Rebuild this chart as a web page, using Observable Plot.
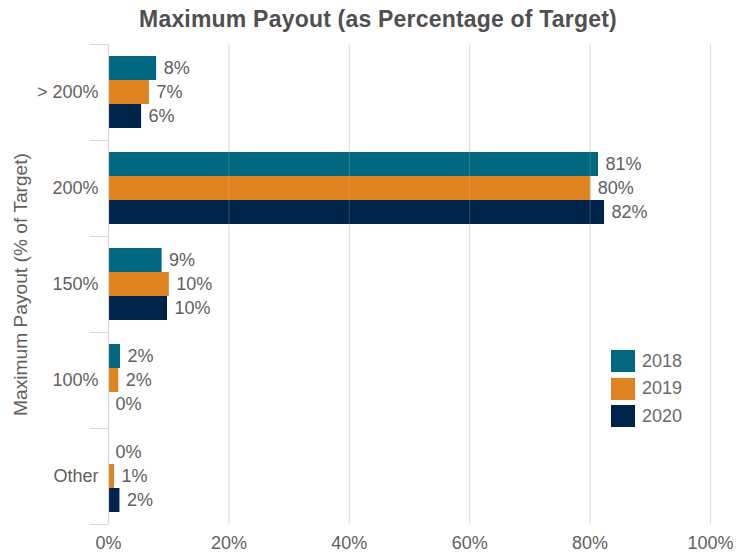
<!DOCTYPE html>
<html>
<head>
<meta charset="utf-8">
<script src="https://cdn.jsdelivr.net/npm/d3@7"></script>
<script src="https://cdn.jsdelivr.net/npm/@observablehq/plot@0.6"></script>
<style>
  body { margin: 0; background: #fff; font-family: "Liberation Sans", Arial, sans-serif; }
  #wrap { position: relative; width: 756px; height: 553px; overflow: hidden; }
  #title { position: absolute; top: 8px; left: 0; width: 756px; text-align: center;
           font-size: 23px; line-height: 1; font-weight: bold; color: #505050; letter-spacing: 0.2px; }
  #chart { position: absolute; top: 44px; left: 0; }
  #legend { position: absolute; left: 611px; top: 350px; }
  .sw { display: flex; align-items: center; height: 22px; margin-bottom: 5.5px; }
  .sw span.box { width: 24px; height: 22px; display: inline-block; }
  .sw span.lab { margin-left: 7px; font-size: 18px; color: #6b6b6b; }
</style>
</head>
<body>
<div id="wrap">
  <div id="title">Maximum Payout (as Percentage of Target)</div>
  <div id="chart"></div>
  <div id="legend"></div>
</div>
<script>
const categories = ["> 200%", "200%", "150%", "100%", "Other"];
const years = ["2018", "2019", "2020"];
const v2018 = [8.0, 81.4, 8.9, 2.0, 0];
const v2019 = [6.8, 80.1, 10.1, 1.7, 1.0];
const v2020 = [5.5, 82.4, 9.8, 0, 1.9];
const colors = ["#00677f", "#df8220", "#00234a"];
const xTicks = [0, 20, 40, 60, 80, 100];
const yLabel = "Maximum Payout (% of Target)";

const series = [v2018, v2019, v2020];
const data = [];
categories.forEach((c, i) => {
  years.forEach((yr, j) => data.push({category: c, year: yr, value: series[j][i]}));
});

const W = 756, H = 509, mt = 0, mb = 29, ml = 108, mr = 46;
const band = (H - mt - mb) / categories.length;
const textColor = "#5f5f5f";

const plot = Plot.plot({
  width: W,
  height: H,
  marginTop: mt,
  marginBottom: mb,
  marginLeft: ml,
  marginRight: mr,
  style: {fontFamily: "Liberation Sans, Arial, sans-serif", fontSize: "18px", color: textColor, background: "#fff"},
  x: {domain: [0, 100]},
  y: {domain: years, paddingInner: 0, paddingOuter: 0.45, axis: null},
  fy: {domain: categories, padding: 0},
  color: {domain: years, range: colors},
  marks: [
    Plot.ruleX(xTicks.filter(d => d > 0), {stroke: "#d6d6d6", strokeWidth: 1}),
    Plot.barX(data, {x: "value", y: "year", fy: "category", fill: "year"}),
    Plot.ruleX(xTicks.filter(d => d > 0), {stroke: "#ffffff", strokeOpacity: 0.18, strokeWidth: 1}),
    Plot.ruleX([0], {stroke: "#d6d6d6", strokeWidth: 1.2}),
    Plot.text(data, {x: "value", y: "year", fy: "category", text: d => Math.round(d.value) + "%",
      textAnchor: "start", dx: 7, fill: textColor, fontSize: 18}),
    Plot.axisX({ticks: xTicks, tickSize: 0, tickPadding: 12, tickFormat: d => d + "%", label: null, fontSize: 18, fill: textColor}),
    Plot.axisFy({anchor: "left", tickSize: 0, tickPadding: 10, label: yLabel, labelAnchor: "center", labelOffset: 95, fontSize: 18, fill: textColor}),
    Plot.axisFy({anchor: "left", tickSize: 18, text: null, label: null, dy: -band / 2, stroke: "#d6d6d6"}),
    Plot.axisFy({anchor: "left", ticks: [categories[categories.length - 1]], tickSize: 18, text: null, label: null, dy: band / 2, stroke: "#d6d6d6"})
  ]
});
d3.select(plot).selectAll('g[aria-label="fy-axis label"] text')
  .style("font-size", "19.2px");
document.getElementById("chart").appendChild(plot);

const legend = document.getElementById("legend");
years.forEach((yr, j) => {
  const row = document.createElement("div");
  row.className = "sw";
  row.innerHTML = `<span class="box" style="background:${colors[j]}"></span><span class="lab">${yr}</span>`;
  legend.appendChild(row);
});
</script>
</body>
</html>
